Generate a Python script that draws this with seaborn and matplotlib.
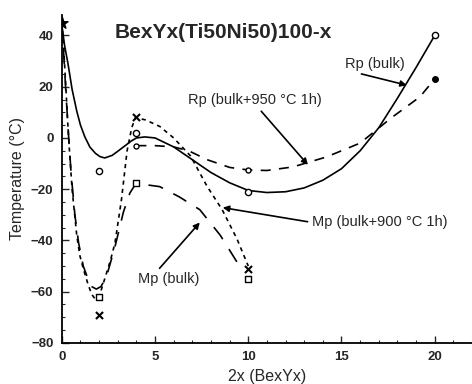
import matplotlib
matplotlib.use("Agg")
import matplotlib.pyplot as plt
import seaborn as sns
import pandas as pd
import numpy as np

# ---- data ----
# measured points
rp_bulk_x = [2, 4, 10, 20]
rp_bulk_y = [-13, 2, -21, 40]
rp950_x = [4, 10]
rp950_y = [-3, -12.5]
rp950_filled_x = [20]
rp950_filled_y = [23]
mp900_x = [2, 4, 10]
mp900_y = [-69, 8, -51]
mpbulk_x = [2, 4, 10]
mpbulk_y = [-62, -17.5, -55]
start_x = [0]
start_y = [45]

# drawn (fitted) curves, read along their path
rp_curve_x = [0, 0.15, 0.33, 0.55, 0.8, 1.0, 1.23, 1.5, 1.8, 2.05, 2.3, 2.7, 3.0, 3.4, 3.7, 4.0, 4.45, 5, 6, 7, 8, 9, 10, 11, 12, 13, 14, 15, 16, 17, 18, 19, 20]
rp_curve_y = [44, 36, 29, 19, 10.5, 5, 0.5, -3.5, -6, -7.3, -7.8, -6.8, -5.2, -3, -1.3, 0, 0.4, 0, -3.5, -8.5, -13.5, -17.5, -20.5, -21.3, -21, -19.5, -16.5, -12, -5, 4, 15.5, 27.5, 40]

rp950_curve_x = [4, 5, 6, 6.8, 7.8, 9, 10, 11, 12.4, 14.2, 16, 17.7, 19.2, 20]
rp950_curve_y = [-3, -3, -3.5, -5, -8.5, -11.5, -12.5, -12.7, -11.3, -7.4, -2, 8, 16, 23]

mp900_curve_x = [0, 0.1, 0.2, 0.3, 0.4, 0.55, 0.8, 0.97, 1.15, 1.4, 1.6, 1.8, 2.0, 2.3, 2.6, 2.85, 3.2, 3.5, 3.75, 3.95, 4.5, 5.25, 6.0, 6.9, 7.8, 8.6, 9.4, 10]
mp900_curve_y = [45, 35, 22, 8, -4, -20, -38, -46, -51, -57, -61, -63, -62, -55, -48, -41, -24, -5, 4, 8, 7, 4.5, 0, -7, -19, -28, -39.5, -50]

mpbulk_curve_x = [0, 0.1, 0.2, 0.35, 0.5, 0.7, 0.9, 1.15, 1.4, 1.6, 1.85, 2.1, 2.4, 2.85, 3.3, 3.65, 4.0, 4.55, 5.25, 6.3, 7.4, 8.5, 9.4, 9.65]
mpbulk_curve_y = [45, 33, 20, 2, -14, -30, -41, -50, -55, -58, -59, -58, -54, -42.5, -29, -21.5, -17.5, -18.3, -19, -23, -28, -38, -48.5, -51]

title_text = "BexYx(Ti50Ni50)100-x"
xlabel_text = "2x (BexYx)"
ylabel_text = "Temperature (\u00b0C)"
x_ticks = [0, 5, 10, 15, 20]
y_ticks = [-80, -60, -40, -20, 0, 20, 40]

sns.set_theme(style="ticks")
plt.rcParams['font.family'] = ['Liberation Sans', 'DejaVu Sans']

fig = plt.figure(figsize=(4.72, 3.84), dpi=100)
ax = fig.add_axes([0.131, 0.107, 0.869, 0.854])

def curve(x, y, dashes):
    df = pd.DataFrame({"x": x, "y": y})
    sns.lineplot(data=df, x="x", y="y", sort=False, ax=ax, color="black",
                 linewidth=1.2, estimator=None)
    ln = ax.lines[-1]
    if dashes is not None:
        ln.set_dashes(dashes)

curve(rp_curve_x, rp_curve_y, None)
curve(rp950_curve_x, rp950_curve_y, (6, 5))
curve(mp900_curve_x, mp900_curve_y, (2.5, 2.5))
curve(mpbulk_curve_x, mpbulk_curve_y, (9, 7))

def pts(x, y, marker, size, face, lw=1.0):
    sns.scatterplot(x=x, y=y, ax=ax, marker=marker, s=size, facecolor=face,
                    edgecolor="black", linewidth=lw, zorder=5)

pts(rp_bulk_x, rp_bulk_y, "o", 20, "white")
pts(rp950_x, rp950_y, "o", 13, "white")
pts(rp950_filled_x, rp950_filled_y, "o", 16, "black")
pts(mp900_x, mp900_y, "x", 26, "black", 1.5)
pts(mpbulk_x, mpbulk_y, "s", 24, "white")
pts(start_x, start_y, "*", 70, "black")

ax.set_xlim(0, 22)
ax.set_ylim(-80, 48)
ax.set_xticks(x_ticks)
ax.set_yticks(y_ticks)
ax.set_xticks(np.arange(0, 23, 1), minor=True)
ax.set_yticks(np.arange(-80, 46, 5), minor=True)
ax.tick_params(which="major", direction="in", length=5, width=1.0, labelsize=9.5, pad=6)
ax.tick_params(which="minor", direction="in", length=2.5, width=0.8)
for lab in ax.get_xticklabels() + ax.get_yticklabels():
    lab.set_fontweight("bold")
sns.despine(ax=ax)
for s in ["left", "bottom"]:
    ax.spines[s].set_linewidth(1.3)
    ax.spines[s].set_color("black")
ax.spines["left"].set_bounds(-80, 48)

ax.set_xlabel(xlabel_text, fontsize=11.5, labelpad=4)
ax.set_ylabel(ylabel_text, fontsize=11.5, labelpad=4)

ax.text(2.85, 41, title_text, fontsize=15, fontweight="bold", va="center", ha="left")

ap = dict(arrowstyle="-|>", color="black", lw=1.2, mutation_scale=9)
ax.annotate("Rp (bulk)", xy=(18.5, 20.6), xytext=(15.2, 29), fontsize=10.5,
            va="center", ha="left", arrowprops=dict(ap, shrinkA=0, shrinkB=0,
            relpos=(0.05, 0.0)))
ax.annotate("Rp (bulk+950 \u00b0C 1h)", xy=(13.2, -10.5), xytext=(6.75, 14.8), fontsize=10.5,
            va="center", ha="left", arrowprops=dict(ap, shrinkA=0, shrinkB=0,
            relpos=(0.55, -0.3)))
ax.annotate("Mp (bulk+900 \u00b0C 1h)", xy=(8.63, -27.2), xytext=(13.4, -32.7), fontsize=10.5,
            va="center", ha="left", arrowprops=dict(ap, shrinkA=0, shrinkB=0,
            relpos=(-0.03, 0.5)))
ax.annotate("Mp (bulk)", xy=(7.4, -33), xytext=(4.1, -54.9), fontsize=10.5,
            va="center", ha="left", arrowprops=dict(ap, shrinkA=0, shrinkB=0,
            relpos=(0.3, 1.0)))

fig.savefig("out.png", dpi=100, facecolor="white")
